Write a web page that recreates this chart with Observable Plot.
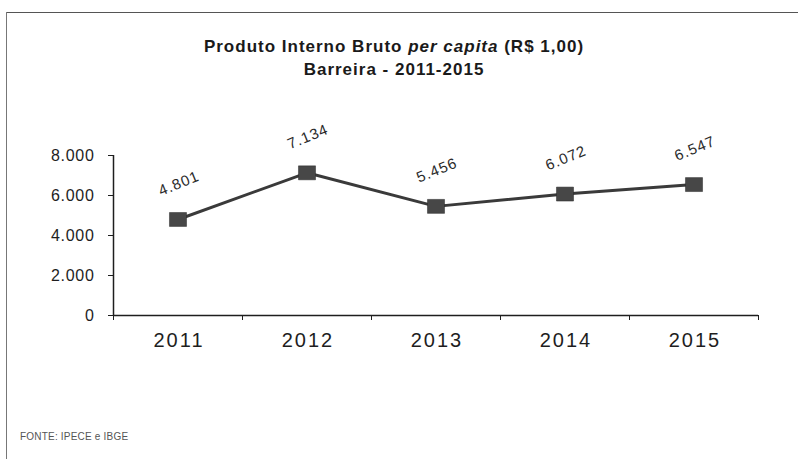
<!DOCTYPE html>
<html>
<head>
<meta charset="utf-8">
<script src="https://cdn.jsdelivr.net/npm/d3@7"></script>
<script src="https://cdn.jsdelivr.net/npm/@observablehq/plot@0.6"></script>
<style>
  html, body { margin: 0; padding: 0; background: #fff; }
  #wrap { position: relative; width: 798px; height: 459px; overflow: hidden; font-family: "Liberation Sans", Arial, sans-serif; color: #1e1e1e; }
  #wrap svg { position: absolute; left: 0; top: 0; }
  .border-top { position: absolute; left: 6px; top: 12px; width: 792px; height: 0; border-top: 1.5px solid #555; }
  .border-left { position: absolute; left: 6px; top: 12px; width: 0; height: 447px; border-left: 1px solid #777; }
  .title { position: absolute; left: 0; width: 788px; text-align: center; font-size: 17px; font-weight: bold; color: #1a1a1a; line-height: 20px; letter-spacing: 1px; }
  .foot { position: absolute; left: 20px; top: 431px; font-size: 10px; color: #555; letter-spacing: 0.2px; }
</style>
</head>
<body>
<div id="wrap">
  <div class="border-top"></div>
  <div class="border-left"></div>
  <div class="title" style="top:37px">Produto Interno Bruto <i>per capita</i> (R$ 1,00)</div>
  <div class="title" style="top:60px">Barreira - 2011-2015</div>
  <div class="foot">FONTE: IPECE e IBGE</div>
</div>
<script>
const years = [2011, 2012, 2013, 2014, 2015];
const pibPerCapita = [4801, 7134, 5456, 6072, 6547];
const yTicks = [0, 2000, 4000, 6000, 8000];

const ptBR = d3.formatLocale({decimal: ",", thousands: ".", grouping: [3], currency: ["R$", ""]});
const fmt = ptBR.format(",d");

const data = years.map((y, i) => ({year: y, value: pibPerCapita[i]}));
const xDomain = [d3.min(years) - 0.5, d3.max(years) + 0.5];
const boundaries = years.map(y => y - 0.5).concat([d3.max(years) + 0.5]);

// slightly wide square marker (the scanned original is horizontally stretched)
const wideSquare = {
  draw(context, size) {
    const s = Math.sqrt(size);
    const w = s * 1.1 / 2, h = s * 0.9 / 2;
    context.moveTo(-w, -h);
    context.lineTo(w, -h);
    context.lineTo(w, h);
    context.lineTo(-w, h);
    context.closePath();
  }
};

const chart = Plot.plot({
  width: 798,
  height: 459,
  marginLeft: 113,
  marginRight: 40,
  marginTop: 155,
  marginBottom: 144,
  style: {fontFamily: "'Liberation Sans', Arial, sans-serif", color: "#1e1e1e", background: "transparent"},
  x: {type: "linear", domain: xDomain},
  y: {domain: [0, 8000]},
  marks: [
    Plot.axisY({ticks: yTicks, tickFormat: fmt, tickSize: 5, tickPadding: 14, fontSize: 16, label: null}),
    Plot.axisX({ticks: boundaries, tickFormat: () => "", tickSize: 5, label: null}),
    Plot.axisX({ticks: years, tickFormat: d => String(d), tickSize: 0, tickPadding: 17, fontSize: 20, dx: 1, label: null}),
    Plot.ruleX([xDomain[0]], {stroke: "#1e1e1e", strokeWidth: 1.5}),
    Plot.ruleY([0], {stroke: "#1e1e1e", strokeWidth: 1.5}),
    Plot.line(data, {x: "year", y: "value", stroke: "#3a3a3a", strokeWidth: 3}),
    Plot.dot(data, {x: "year", y: "value", symbol: wideSquare, r: 8.75, fill: "#474747", stroke: "#2a2a2a", strokeWidth: 0.5}),
    Plot.text(data, {x: "year", y: "value", text: d => fmt(d.value), dx: 1, dy: -36, rotate: -22, fontSize: 15, fill: "#2a2a2a"})
  ]
});
const sel = d3.select(chart);
sel.selectAll('g[aria-label="y-axis tick label"]').attr("letter-spacing", "0.7px");
sel.selectAll('g[aria-label="x-axis tick label"]').attr("letter-spacing", "2px");
sel.selectAll('g[aria-label="text"]').attr("letter-spacing", "1px");
document.getElementById("wrap").prepend(chart);
</script>
</body>
</html>
